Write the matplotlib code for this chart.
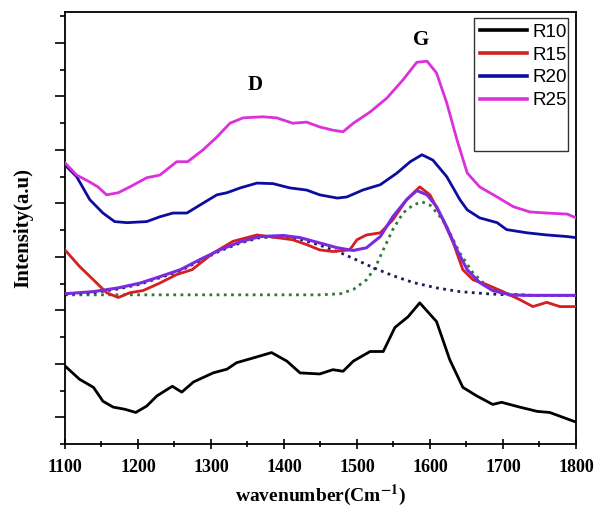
import numpy as np
import matplotlib
matplotlib.use("Agg")
import matplotlib.pyplot as plt
from matplotlib.patches import Rectangle
from matplotlib.ticker import MultipleLocator

# curves (wavenumber, intensity in arbitrary units)
r10_x = [1100, 1120, 1139, 1152, 1166, 1182, 1197, 1212, 1226, 1247, 1260, 1276, 1303, 1322, 1335,
         1358, 1383, 1404, 1422, 1449, 1467, 1481, 1495, 1518, 1536, 1552, 1570, 1586, 1609, 1627,
         1645, 1664, 1686, 1698, 1723, 1747, 1764, 1782, 1800]
r10_y = [0.96, 0.71, 0.56, 0.30, 0.19, 0.15, 0.09, 0.21, 0.40, 0.58, 0.47, 0.66, 0.83, 0.90, 1.02,
         1.11, 1.21, 1.05, 0.83, 0.81, 0.89, 0.86, 1.05, 1.23, 1.23, 1.68, 1.88, 2.14, 1.79, 1.08,
         0.56, 0.40, 0.24, 0.28, 0.19, 0.11, 0.09, 0.00, -0.09]

r15_x = [1100, 1120, 1139, 1157, 1173, 1189, 1207, 1230, 1253, 1274, 1303, 1330, 1363, 1390, 1412,
         1431, 1449, 1467, 1490, 1500, 1513, 1532, 1549, 1568, 1586, 1600, 1618, 1632, 1645, 1659,
         1678, 1700, 1723, 1741, 1760, 1778, 1800]
r15_y = [3.13, 2.82, 2.57, 2.33, 2.24, 2.33, 2.37, 2.51, 2.67, 2.76, 3.07, 3.29, 3.41, 3.36, 3.32,
         3.23, 3.13, 3.10, 3.13, 3.32, 3.41, 3.45, 3.69, 4.07, 4.31, 4.16, 3.69, 3.26, 2.76, 2.57,
         2.48, 2.35, 2.20, 2.07, 2.15, 2.07, 2.07]

r20_x = [1100, 1116, 1134, 1152, 1168, 1185, 1212, 1230, 1248, 1267, 1285, 1308, 1322, 1340, 1363,
         1385, 1408, 1431, 1449, 1473, 1486, 1508, 1532, 1555, 1573, 1589, 1604, 1623, 1641, 1651,
         1668, 1692, 1705, 1733, 1760, 1788, 1800]
r20_y = [4.72, 4.50, 4.07, 3.82, 3.66, 3.64, 3.66, 3.75, 3.82, 3.82, 3.97, 4.16, 4.20, 4.29, 4.38,
         4.37, 4.29, 4.25, 4.16, 4.10, 4.12, 4.25, 4.35, 4.57, 4.78, 4.91, 4.81, 4.50, 4.07, 3.88,
         3.73, 3.64, 3.51, 3.45, 3.41, 3.38, 3.36]

r25_x = [1100, 1116, 1134, 1145, 1157, 1173, 1189, 1212, 1230, 1253, 1268, 1289, 1308, 1326, 1344,
         1371, 1390, 1412, 1431, 1449, 1467, 1481, 1495, 1518, 1541, 1563, 1582, 1596, 1609, 1623,
         1637, 1651, 1668, 1692, 1714, 1737, 1760, 1788, 1800]
r25_y = [4.76, 4.53, 4.40, 4.31, 4.16, 4.20, 4.31, 4.48, 4.53, 4.78, 4.78, 5.00, 5.24, 5.50, 5.60,
         5.62, 5.60, 5.50, 5.52, 5.43, 5.37, 5.34, 5.50, 5.71, 5.97, 6.31, 6.64, 6.66, 6.44, 5.88,
         5.19, 4.57, 4.31, 4.12, 3.94, 3.84, 3.82, 3.80, 3.73]

# fitted envelope of R15 and its two bands
fit_x = [1100, 1139, 1173, 1203, 1230, 1258, 1285, 1312, 1340, 1367, 1399, 1422, 1449, 1473, 1495,
         1513, 1532, 1549, 1568, 1582, 1596, 1609, 1623, 1637, 1651, 1668, 1686, 1710, 1733, 1800]
fit_y = [2.31, 2.35, 2.42, 2.51, 2.63, 2.76, 2.95, 3.13, 3.28, 3.38, 3.40, 3.36, 3.26, 3.17, 3.12,
         3.17, 3.38, 3.75, 4.07, 4.24, 4.16, 3.94, 3.56, 3.13, 2.76, 2.52, 2.37, 2.29, 2.28, 2.28]

d_x = [1100, 1139, 1173, 1203, 1230, 1258, 1285, 1312, 1340, 1367, 1399, 1422, 1449, 1477, 1495,
       1522, 1549, 1577, 1609, 1641, 1678, 1705, 1740, 1800]
d_y = [2.30, 2.33, 2.40, 2.49, 2.61, 2.74, 2.93, 3.11, 3.26, 3.36, 3.38, 3.33, 3.22, 3.08, 2.97,
       2.80, 2.65, 2.52, 2.42, 2.35, 2.31, 2.29, 2.28, 2.28]

g_x = [1100, 1200, 1300, 1400, 1449, 1477, 1495, 1513, 1525, 1536, 1549, 1563, 1577, 1589, 1600,
       1614, 1623, 1641, 1659, 1678, 1700, 1740, 1800]
g_y = [2.29, 2.29, 2.29, 2.29, 2.29, 2.31, 2.39, 2.57, 2.80, 3.13, 3.51, 3.82, 3.97, 4.03, 3.97,
       3.75, 3.56, 3.07, 2.70, 2.45, 2.31, 2.28, 2.28]

series = [("R10", r10_x, r10_y, "#000000"),
          ("R15", r15_x, r15_y, "#d42020"),
          ("R20", r20_x, r20_y, "#0c0ca0"),
          ("R25", r25_x, r25_y, "#dc30dc")]

serif = ["Liberation Serif", "DejaVu Serif"]
plt.rcParams["mathtext.fontset"] = "stix"

fig = plt.figure(figsize=(5.95, 5.13), dpi=100)
ax = fig.add_axes([0.1092, 0.1345, 0.8588, 0.8421])

ax.plot(g_x, g_y, color="#2f7a3a", lw=2.0, linestyle=(0, (1, 1.6)), zorder=2)
ax.plot(d_x, d_y, color="#1c1c5c", lw=2.0, linestyle=(0, (1, 1.6)), zorder=2)

handles = []
for name, xs, ys, col in series:
    h, = ax.plot(xs, ys, color=col, lw=2.0, label=name, zorder=3)
    handles.append(h)

ax.plot(fit_x, fit_y, color="#7a2be0", lw=2.2, zorder=4)

ax.set_xlim(1100, 1800)
ax.set_ylim(-0.5, 7.58)
ax.xaxis.set_major_locator(MultipleLocator(100))
ax.xaxis.set_minor_locator(MultipleLocator(50))
ax.yaxis.set_major_locator(MultipleLocator(1))
ax.yaxis.set_minor_locator(MultipleLocator(0.5))
ax.tick_params(axis="x", which="major", direction="inout", length=7, width=1.2, pad=7)
ax.tick_params(axis="x", which="minor", direction="inout", length=4, width=1.2)
ax.tick_params(axis="y", which="major", direction="out", length=7, width=1.2, labelleft=False)
ax.tick_params(axis="y", which="minor", direction="out", length=3.5, width=1.2)
for lab in ax.get_xticklabels():
    lab.set_fontfamily(serif)
    lab.set_fontweight("bold")
    lab.set_fontsize(13)
for sp in ax.spines.values():
    sp.set_linewidth(1.3)

ax.set_xlabel(r"wavenumber(Cm$^{\mathbf{-1}}$)", fontfamily=serif, fontweight="bold",
              fontsize=14, labelpad=5)
ax.set_ylabel("Intensity(a.u)", fontfamily=serif, fontweight="bold", fontsize=15, labelpad=16)

ax.text(1360, 6.21, "D", fontfamily=serif, fontweight="bold", fontsize=15, ha="center", va="center")
ax.text(1588, 7.05, "G", fontfamily=serif, fontweight="bold", fontsize=15, ha="center", va="center")

leg = ax.legend(handles=handles, loc="upper left", bbox_to_anchor=(0.798, 0.99), frameon=False,
                prop={"family": "Liberation Sans", "size": 13.5}, handlelength=2.5,
                handletextpad=0.3, labelspacing=0.3, borderaxespad=0)
for ln in leg.get_lines():
    ln.set_linewidth(2.6)
ax.add_patch(Rectangle((0.800, 0.679), 0.184, 0.308, transform=ax.transAxes, fill=False,
                       edgecolor="#333333", lw=1.0, zorder=5))

fig.savefig("out.png", dpi=100)
